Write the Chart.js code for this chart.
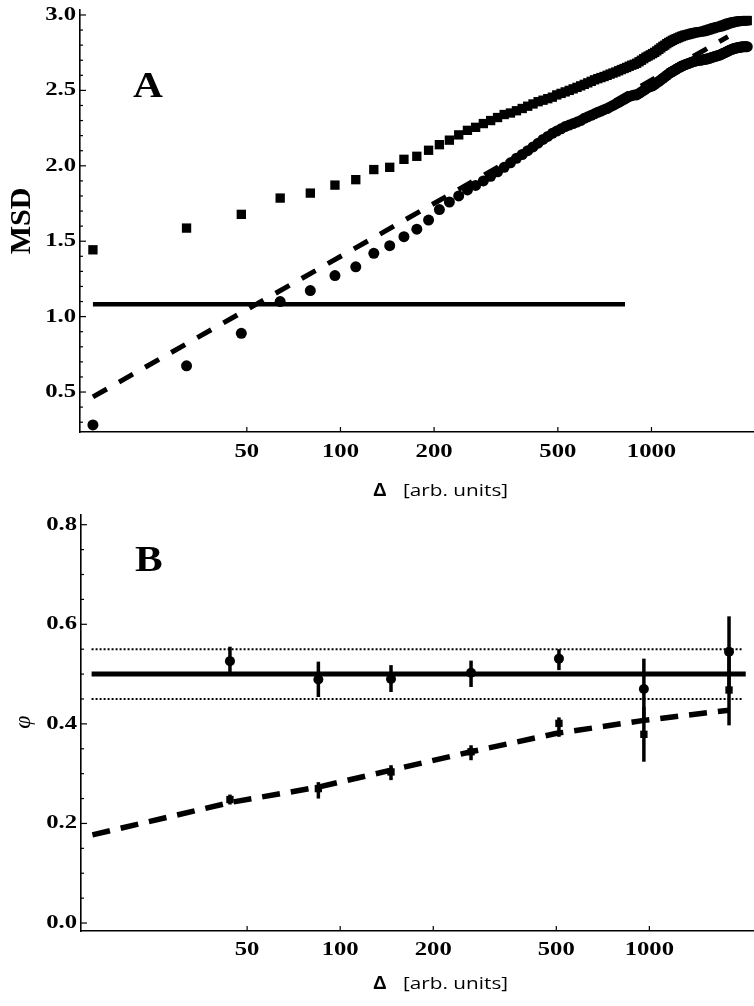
<!DOCTYPE html>
<html><head><meta charset="utf-8">
<script src="https://cdn.jsdelivr.net/npm/chart.js@4.4.1/dist/chart.umd.min.js"></script>
<style>
html,body{margin:0;padding:0;background:#fff;}
#wrap{position:relative;width:754px;height:1006px;overflow:hidden;}
.box{position:absolute;left:0;width:754px;}
#boxA{top:0;height:505px;}
#boxB{top:505px;height:501px;}
.warm{position:absolute;left:-999px;top:0;font-size:20px;}
</style></head><body>
<span class="warm" style="font-family:'Liberation Serif';font-weight:bold;">MSD 0.5 AB</span>
<span class="warm" style="font-family:'Liberation Serif';font-style:italic;">φ</span>
<span class="warm" style="font-family:'Open Sans';">[arb. units]</span>
<span class="warm" style="font-family:'Liberation Sans';font-weight:bold;">Δ</span>
<div id="wrap">
<div class="box" id="boxA"><canvas id="cA"></canvas></div>
<div class="box" id="boxB"><canvas id="cB"></canvas></div>
</div>
<script>
// ---------------- Panel A data ----------------
const A_delta = [16,32,48,64,80,96,112,128,144,160,176,192,208,224,240,256,
272,288,304,320,336,352,368,384,400,416,432,448,464,480,496,512,
528,544,560,576,592,608,624,640,656,672,688,704,720,736,752,768,
784,800,816,832,848,864,880,896,912,928,944,960,976,992,1008,1024,
1040,1056,1072,1088,1104,1120,1136,1152,1168,1184,1200,1216,1232,1248,1264,1280,
1296,1312,1328,1344,1360,1376,1392,1408,1424,1440,1456,1472,1488,1504,1520,1536,
1552,1568,1584,1600,1616,1632,1648,1664,1680,1696,1712,1728,1744,1760,1776,1792,
1808,1824,1840,1856,1872,1888,1904,1920,1936,1952,1968,1984,2000,2016,2032];
const A_squares = [1.443,1.587,1.678,1.786,1.819,1.872,1.908,1.975,1.990,2.043,2.063,2.103,2.140,2.170,2.205,2.235,
2.255,2.280,2.300,2.320,2.340,2.350,2.365,2.380,2.395,2.410,2.425,2.435,2.445,2.455,2.470,2.480,
2.490,2.500,2.510,2.520,2.530,2.540,2.550,2.560,2.570,2.578,2.585,2.592,2.600,2.608,2.615,2.622,
2.630,2.638,2.645,2.652,2.660,2.667,2.673,2.680,2.690,2.700,2.710,2.720,2.728,2.736,2.744,2.752,
2.762,2.772,2.782,2.792,2.800,2.810,2.818,2.825,2.832,2.838,2.843,2.848,2.853,2.858,2.862,2.866,
2.868,2.871,2.874,2.877,2.880,2.882,2.884,2.886,2.888,2.889,2.890,2.892,2.895,2.898,2.901,2.904,
2.907,2.910,2.913,2.916,2.918,2.920,2.922,2.924,2.927,2.930,2.933,2.936,2.939,2.942,2.945,2.947,
2.949,2.951,2.953,2.955,2.956,2.957,2.958,2.959,2.960,2.961,2.961,2.962,2.962,2.963,2.963];
const A_circles = [0.282,0.674,0.889,1.100,1.173,1.272,1.330,1.420,1.470,1.530,1.580,1.640,1.710,1.760,1.800,1.840,
1.870,1.900,1.930,1.960,1.990,2.020,2.050,2.075,2.100,2.125,2.150,2.175,2.195,2.215,2.230,2.245,
2.260,2.270,2.280,2.290,2.300,2.315,2.325,2.335,2.345,2.355,2.363,2.372,2.380,2.390,2.400,2.410,
2.420,2.430,2.440,2.450,2.460,2.465,2.470,2.470,2.480,2.490,2.500,2.510,2.520,2.525,2.530,2.540,
2.550,2.560,2.570,2.580,2.590,2.600,2.610,2.618,2.625,2.632,2.640,2.647,2.653,2.660,2.665,2.670,
2.674,2.678,2.682,2.686,2.690,2.693,2.696,2.698,2.700,2.700,2.702,2.704,2.706,2.708,2.710,2.713,
2.716,2.720,2.722,2.725,2.728,2.730,2.733,2.736,2.740,2.744,2.748,2.752,2.756,2.760,2.764,2.768,
2.771,2.774,2.777,2.779,2.781,2.783,2.785,2.786,2.787,2.788,2.789,2.790,2.790,2.790,2.790];
const A_hline_x = [16, 822];
const A_hline_y = [1.082, 1.082];
const A_fit_x = [16, 1762];
const A_fit_y = [0.468, 2.856];
const A_yTicks = [0.5, 1.0, 1.5, 2.0, 2.5, 3.0];
const A_yTickLabels = ["0.5","1.0","1.5","2.0","2.5","3.0"];
const A_yMinor = [0.3,0.4,0.6,0.7,0.8,0.9,1.1,1.2,1.3,1.4,1.6,1.7,1.8,1.9,2.1,2.2,2.3,2.4,2.6,2.7,2.8,2.9];
const xTicks = [50, 100, 200, 500, 1000];
const xTickLabels = ["50","100","200","500","1000"];

// ---------------- Panel B data ----------------
const B_delta = [44, 85, 146, 265, 510, 960, 1810];
const B_circles = [0.526, 0.489, 0.490, 0.5025, 0.531, 0.470, 0.545];
const B_circles_lo = [0.501, 0.454, 0.464, 0.474, 0.508, 0.410, 0.473];
const B_circles_hi = [0.555, 0.525, 0.518, 0.527, 0.550, 0.531, 0.616];
const B_squares = [0.248, 0.270, 0.3035, 0.344, 0.401, 0.379, 0.468];
const B_squares_lo = [0.238, 0.250, 0.287, 0.327, 0.374, 0.324, 0.397];
const B_squares_hi = [0.258, 0.283, 0.317, 0.357, 0.413, 0.434, 0.535];
const B_fit_x = [15.8, 44, 85, 146, 265, 502, 960, 1810];
const B_fit_y = [0.177, 0.242, 0.273, 0.307, 0.344, 0.381, 0.407, 0.4275];
const B_mean_x = [15.7, 2050];
const B_mean_y = [0.5, 0.5];
const B_band_x = [15.7, 1990];
const B_bandHi_y = [0.55, 0.55];
const B_bandLo_y = [0.45, 0.45];
const B_yTicks = [0.0, 0.2, 0.4, 0.6, 0.8];
const B_yTickLabels = ["0.0","0.2","0.4","0.6","0.8"];
const B_yMinor = [0.05,0.1,0.15,0.25,0.3,0.35,0.45,0.5,0.55,0.65,0.7,0.75];

// ---------------- helpers ----------------
const SERIF = '"Liberation Serif", "Times New Roman", Times, serif';
const pts = (xs, ys) => xs.map((x, i) => ({x, y: ys[i]}));
const lineDS = (data, w, dash) => ({data, showLine: true, borderColor: '#000', borderWidth: w,
  borderDash: dash || [], pointRadius: 0, pointHoverRadius: 0, fill: false, tension: 0, borderCapStyle: 'butt'});
const markDS = (data, style, r) => ({data, showLine: false, pointStyle: style, pointRadius: r, pointHoverRadius: r,
  backgroundColor: '#000', borderColor: '#000', borderWidth: 0});

function drawFit(ctx, text, font, x, y, align, sx, rot) {
  ctx.save();
  ctx.font = font;
  ctx.translate(x, y);
  if (rot) ctx.rotate(rot);
  ctx.scale(sx, 1);
  ctx.textAlign = align;
  ctx.textBaseline = 'middle';
  ctx.fillStyle = '#000';
  ctx.fillText(text, 0, 0);
  ctx.restore();
}

const deco = {
  id: 'deco',
  afterDraw(chart, args, o) {
    const ctx = chart.ctx, xs = chart.scales.x, ys = chart.scales.y, a = chart.chartArea;
    ctx.save();
    ctx.strokeStyle = '#000';
    ctx.lineWidth = 1.2;
    const seg = (x1, y1, x2, y2) => { ctx.beginPath(); ctx.moveTo(x1, y1); ctx.lineTo(x2, y2); ctx.stroke(); };
    o.yTicks.forEach(v => { const p = ys.getPixelForValue(v); seg(a.left, p, a.left + 6, p); });
    o.yMinor.forEach(v => { const p = ys.getPixelForValue(v); seg(a.left, p, a.left + 3, p); });
    o.xTicks.forEach(v => { const p = xs.getPixelForValue(v); seg(p, a.bottom, p, a.bottom - 5); });
    ctx.restore();
    const tf = 'bold 19px ' + SERIF;
    o.yTicks.forEach((v, i) => drawFit(ctx, o.yLabels[i], tf, a.left - 4, ys.getPixelForValue(v), 'right', 1.3));
    o.xTicks.forEach((v, i) => drawFit(ctx, o.xLabels[i], tf, xs.getPixelForValue(v), o.xLabelY, 'center', 1.3));
    drawFit(ctx, 'Δ', 'bold 19px "Liberation Sans", Arial, sans-serif', 373, o.titleY, 'left', 1.0);
    drawFit(ctx, '[arb. units]', '17px "Open Sans", sans-serif', 403, o.titleY, 'left', 1.22);
    drawFit(ctx, o.letter, 'bold 36px ' + SERIF, o.letterX, o.letterY, 'left', 1.15);
    if (o.yTitle) drawFit(ctx, o.yTitle, o.yTitleFont, o.yTitleX, o.yTitleY, 'center', 1.0, -Math.PI / 2);
  }
};

function baseOptions(xMin, xMax, yMin, yMax, yW, xH, padTop, decoOpts) {
  return {
    responsive: true, maintainAspectRatio: false, animation: false, devicePixelRatio: 1,
    layout: {padding: {top: padTop, left: 0, right: 0, bottom: 0}, autoPadding: false},
    plugins: {legend: {display: false}, tooltip: {enabled: false}, deco: decoOpts},
    events: [],
    scales: {
      x: {type: 'logarithmic', min: xMin, max: xMax, ticks: {display: false},
          grid: {display: false, drawTicks: false}, border: {display: true, color: '#000', width: 1.6},
          afterFit(s) { s.height = xH; }},
      y: {type: 'linear', min: yMin, max: yMax, ticks: {display: false},
          grid: {display: false, drawTicks: false}, border: {display: true, color: '#000', width: 1.6},
          afterFit(s) { s.width = yW; }}
    }
  };
}

function build() {
  new Chart(document.getElementById('cA'), {
    type: 'scatter',
    data: {datasets: [
      lineDS(pts(A_hline_x, A_hline_y), 4.5),
      markDS(pts(A_delta, A_squares), 'rect', 6.6),
      markDS(pts(A_delta, A_circles), 'circle', 5.5),
      lineDS(pts(A_fit_x, A_fit_y), 5, [16, 14])
    ]},
    options: baseOptions(14.54, 2136, 0.235, 3.033, 80, 73, 10, {
      yTicks: A_yTicks, yLabels: A_yTickLabels, yMinor: A_yMinor, xTicks: xTicks, xLabels: xTickLabels,
      xLabelY: 452, titleY: 491, letter: 'A', letterX: 133, letterY: 88,
      yTitle: 'MSD', yTitleFont: 'bold 30px ' + SERIF, yTitleX: 22, yTitleY: 221
    }),
    plugins: [deco]
  });

  const errDS = [];
  B_delta.forEach((x, i) => {
    errDS.push(lineDS([{x, y: B_circles_lo[i]}, {x, y: B_circles_hi[i]}], 3.5));
    errDS.push(lineDS([{x, y: B_squares_lo[i]}, {x, y: B_squares_hi[i]}], 3.5));
  });
  new Chart(document.getElementById('cB'), {
    type: 'scatter',
    data: {datasets: [
      lineDS(pts(B_band_x, B_bandHi_y), 2, [2, 2]),
      lineDS(pts(B_band_x, B_bandLo_y), 2, [2, 2]),
      lineDS(pts(B_mean_x, B_mean_y), 5),
      lineDS(pts(B_fit_x, B_fit_y), 5.5, [18, 11]),
      ...errDS,
      markDS(pts(B_delta, B_circles), 'circle', 5),
      markDS(pts(B_delta, B_squares), 'rect', 5.2)
    ]},
    options: baseOptions(14.51, 2180, -0.016, 0.8195, 81, 75, 10, {
      yTicks: B_yTicks, yLabels: B_yTickLabels, yMinor: B_yMinor, xTicks: xTicks, xLabels: xTickLabels,
      xLabelY: 445, titleY: 479, letter: 'B', letterX: 135, letterY: 57,
      yTitle: 'φ', yTitleFont: 'italic 24px ' + SERIF, yTitleX: 24, yTitleY: 217
    }),
    plugins: [deco]
  });
}

let built = false;
function go() { if (!built) { built = true; build(); } }
const loads = [
  'bold 19px "Liberation Serif"', 'italic 24px "Liberation Serif"',
  '17px "Open Sans"', 'bold 19px "Liberation Sans"'
].map(f => document.fonts.load(f).catch(() => null));
Promise.all(loads).then(go, go);
setTimeout(go, 1500);
</script>
</body></html>
